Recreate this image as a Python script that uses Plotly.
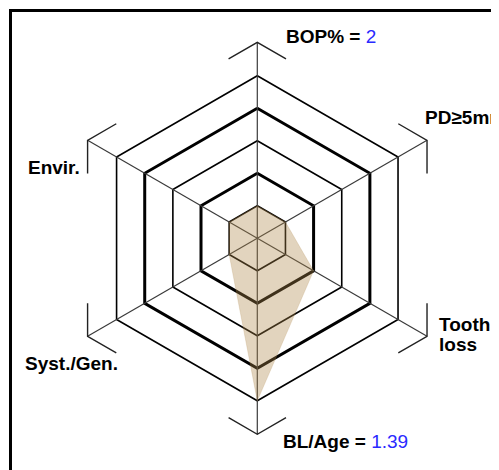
import math
import plotly.graph_objects as go

# Periodontal risk hexagon
categories = ["BOP%", "PD≥5mm", "Tooth loss", "BL/Age", "Syst./Gen.", "Envir."]
angles_deg = [90, 30, -30, -90, -150, 150]
risk_scores = [1, 1, 2, 5, 1, 1]
ring_levels = [1, 2, 3, 4, 5]
thick_rings = [2, 4]
bop_value = "2"
bl_age_value = "1.39"

AXIS_LEN = 6.03
ARM = 1.02
BLUE = "#2a2aff"
FONT = "Liberation Sans, Arial, sans-serif"

# page body has an 8px margin, so the figure is a bit smaller than the window
W, H = 491, 462


def pt(r, a):
    t = math.radians(a)
    return r * math.cos(t), r * math.sin(t)


fig = go.Figure()

# hexagon rings
for lev in ring_levels:
    xs, ys = [], []
    for a in angles_deg + angles_deg[:1]:
        x, y = pt(lev, a)
        xs.append(x)
        ys.append(y)
    fig.add_trace(go.Scatter(
        x=xs, y=ys, mode="lines",
        line=dict(color="black", width=3 if lev in thick_rings else 1.6),
        hoverinfo="skip", showlegend=False))

# spokes + chevrons at the ends
sx, sy = [], []
cx, cy = [], []
for a in angles_deg:
    ex, ey = pt(AXIS_LEN, a)
    sx += [0, ex, None]
    sy += [0, ey, None]
    ax1 = pt(ARM, a + 120)
    ax2 = pt(ARM, a - 120)
    cx += [ex + ax1[0], ex, ex + ax2[0], None]
    cy += [ey + ax1[1], ey, ey + ax2[1], None]
fig.add_trace(go.Scatter(x=sx, y=sy, mode="lines",
                         line=dict(color="#3a3a3a", width=1.2),
                         hoverinfo="skip", showlegend=False))
fig.add_trace(go.Scatter(x=cx, y=cy, mode="lines",
                         line=dict(color="#222", width=1.4),
                         hoverinfo="skip", showlegend=False))

# patient polygon
px_, py_ = [], []
for r, a in zip(risk_scores + risk_scores[:1], angles_deg + angles_deg[:1]):
    x, y = pt(r, a)
    px_.append(x)
    py_.append(y)
fig.add_trace(go.Scatter(
    x=px_, y=py_, mode="lines", fill="toself",
    fillcolor="rgba(175,135,75,0.36)",
    line=dict(color="rgba(175,135,75,0.25)", width=0.8),
    hoverinfo="skip", showlegend=False))

# labels
lbl = dict(font=dict(family=FONT, size=19, color="black"), showarrow=False,
           xref="x", yref="y")
fig.add_annotation(x=0.82, y=6.22, xanchor="left", yanchor="middle",
                   text=f"<b>{categories[0]} = </b><span style='color:{BLUE}'>{bop_value}</span>", **lbl)
fig.add_annotation(x=5.10, y=3.73, xanchor="left", yanchor="middle",
                   text=f"<b>{categories[1]}</b>", **lbl)
tooth, loss = categories[2].split(" ")
fig.add_annotation(x=5.54, y=-2.64, xanchor="left", yanchor="middle",
                   text=f"<b>{tooth}</b>", **lbl)
fig.add_annotation(x=5.54, y=-3.28, xanchor="left", yanchor="middle",
                   text=f"<b>{loss}</b>", **lbl)
fig.add_annotation(x=0.72, y=-6.24, xanchor="left", yanchor="middle",
                   text=f"<b>{categories[3]} = </b><span style='color:{BLUE}'>{bl_age_value}</span>", **lbl)
fig.add_annotation(x=-7.22, y=-3.84, xanchor="left", yanchor="middle",
                   text=f"<b>{categories[4]}</b>", **lbl)
fig.add_annotation(x=-5.39, y=2.19, xanchor="right", yanchor="middle",
                   text=f"<b>{categories[5]}</b>", **lbl)

# frame (cropped on the right and bottom)
fig.add_shape(type="rect", xref="paper", yref="paper",
              x0=2.5 / W, x1=1.5, y0=-0.5, y1=1 - 2.5 / H,
              line=dict(color="black", width=3))

fig.update_layout(
    width=W, height=H,
    margin=dict(l=0, r=0, t=0, b=0),
    paper_bgcolor="white", plot_bgcolor="white",
    xaxis=dict(range=[-7.671, 7.437], visible=False, fixedrange=True),
    yaxis=dict(range=[-7.129, 7.086], visible=False, fixedrange=True),
    showlegend=False,
)

fig.write_html("out.html")
